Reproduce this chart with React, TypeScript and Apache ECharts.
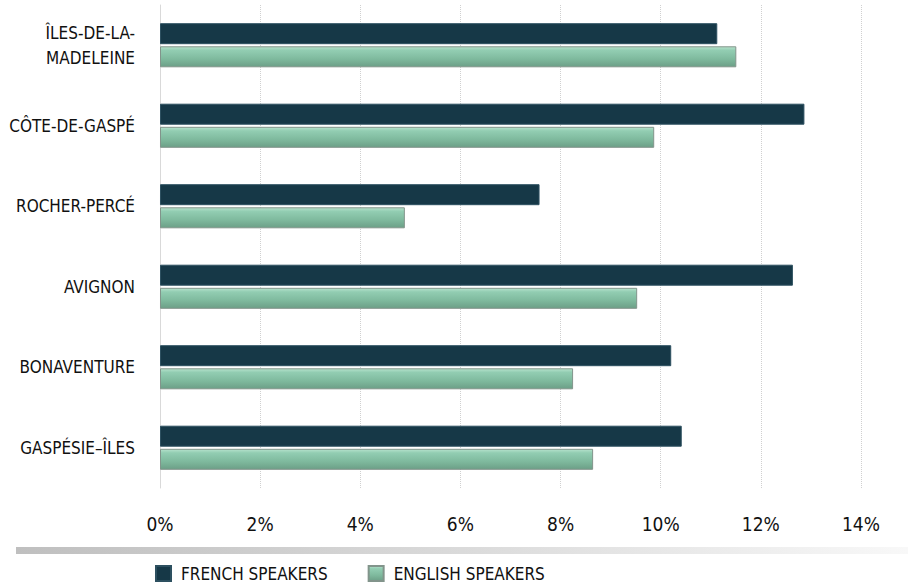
import React, { useEffect, useRef } from "react";
import * as echarts from "echarts";

const categories = [
  "ÎLES-DE-LA-\nMADELEINE",
  "CÔTE-DE-GASPÉ",
  "ROCHER-PERCÉ",
  "AVIGNON",
  "BONAVENTURE",
  "GASPÉSIE–ÎLES",
];
const frenchSpeakers = [11.13, 12.87, 7.58, 12.64, 10.21, 10.42];
const englishSpeakers = [11.51, 9.87, 4.89, 9.53, 8.25, 8.65];
const seriesNames = ["FRENCH SPEAKERS", "ENGLISH SPEAKERS"];

const FONT = '"DejaVu Sans Condensed", "Liberation Sans Narrow", sans-serif';

export default function App() {
  const ref = useRef<HTMLDivElement>(null);
  useEffect(() => {
    if (!ref.current) return;
    const chart = echarts.init(ref.current, undefined, { renderer: "svg" });
    const greenFill = new echarts.graphic.LinearGradient(0, 0, 0, 1, [
      { offset: 0, color: "#b6e2cc" },
      { offset: 0.18, color: "#92cdb2" },
      { offset: 0.6, color: "#7fba9e" },
      { offset: 1, color: "#6c9f87" },
    ]);
    chart.setOption({
      animation: false,
      textStyle: { fontFamily: FONT },
      grid: { left: 160, right: 47, top: 5, height: 483, containLabel: false },
      xAxis: {
        type: "value",
        min: 0,
        max: 14,
        interval: 2,
        axisLine: { show: false },
        axisTick: { show: false },
        axisLabel: {
          formatter: "{value}%",
          fontSize: 19,
          color: "#111",
          margin: 26,
          fontFamily: FONT,
        },
        splitLine: {
          show: true,
          lineStyle: { color: "#d0d0d0", type: "dotted", width: 1 },
        },
      },
      yAxis: {
        type: "category",
        inverse: true,
        data: categories,
        axisLine: { show: true, lineStyle: { color: "#d9d9d9", width: 1 } },
        axisTick: { show: false },
        axisLabel: {
          fontSize: 17,
          lineHeight: 25,
          color: "#111",
          margin: 25,
          align: "right",
          fontFamily: FONT,
        },
        splitLine: { show: false },
      },
      legend: {
        left: 155,
        top: 565,
        padding: 0,
        itemWidth: 15,
        itemHeight: 15,
        itemGap: 40,
        icon: "rect",
        textStyle: { fontSize: 17, color: "#111", fontFamily: FONT, padding: [0, 0, 0, 5] },
        data: seriesNames,
      },
      series: [
        {
          name: seriesNames[0],
          type: "bar",
          data: frenchSpeakers,
          barWidth: 21,
          barGap: "10%",
          itemStyle: { color: "#163847", borderColor: "#2d5060", borderWidth: 1 },
        },
        {
          name: seriesNames[1],
          type: "bar",
          data: englishSpeakers,
          barWidth: 21,
          barGap: "10%",
          itemStyle: { color: greenFill, borderColor: "#82948b", borderWidth: 1 },
        },
      ],
      graphic: [
        {
          type: "rect",
          left: 16,
          top: 547,
          shape: { width: 892, height: 7 },
          style: {
            fill: new echarts.graphic.LinearGradient(0, 0, 1, 0, [
              { offset: 0, color: "#bfbfbf" },
              { offset: 0.5, color: "#dadada" },
              { offset: 1, color: "#f8f8f8" },
            ]),
          },
          silent: true,
        },
      ],
    });
    return () => chart.dispose();
  }, []);
  return (
    <div
      ref={ref}
      style={{ position: "fixed", left: 0, top: 0, width: 908, height: 584, background: "#fff" }}
    />
  );
}
